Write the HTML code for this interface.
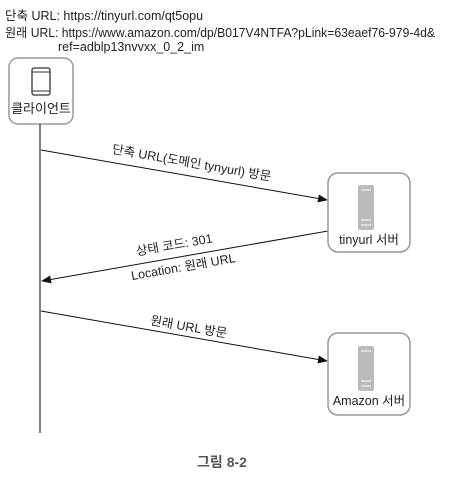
<!DOCTYPE html>
<html><head><meta charset="utf-8"><style>
body{margin:0;background:#fff;width:456px;height:475px;overflow:hidden}
svg text{font-family:"Liberation Sans","Noto Sans CJK KR",sans-serif;fill:#222}
</style></head><body>
<svg width="456" height="475" viewBox="0 0 456 475" xmlns="http://www.w3.org/2000/svg">
<defs><marker id="a" markerWidth="10" markerHeight="8" refX="9" refY="4" orient="auto" markerUnits="userSpaceOnUse"><path d="M0,0 L10,4 L0,8 z" fill="#111"/></marker></defs>
<text x="5" y="20" font-size="12.5">단축 URL: https://tinyurl.com/qt5opu</text>
<text x="5" y="37" font-size="12.5" textLength="430" lengthAdjust="spacingAndGlyphs">원래 URL: https://www.amazon.com/dp/B017V4NTFA?pLink=63eaef76-979-4d&amp;</text>
<text x="58" y="51" font-size="12.5">ref=adblp13nvvxx_0_2_im</text>
<rect x="9" y="58" width="64" height="66" rx="9" fill="#fff" stroke="#999" stroke-width="1.5"/>
<rect x="32" y="68" width="18" height="27" rx="2" fill="none" stroke="#333" stroke-width="1.3"/>
<line x1="32" y1="72" x2="50" y2="72" stroke="#333"/><line x1="32" y1="91" x2="50" y2="91" stroke="#333"/>
<text x="41" y="113" font-size="13" text-anchor="middle">클라이언트</text>
<line x1="40" y1="124" x2="40" y2="433" stroke="#555" stroke-width="1.5"/>
<line x1="41" y1="150" x2="327" y2="200" stroke="#111" stroke-width="1" marker-end="url(#a)"/>
<text transform="translate(191,167) rotate(9.9)" font-size="12.5" text-anchor="middle">단축 URL(도메인 tynyurl) 방문</text>
<line x1="328" y1="231" x2="42" y2="281" stroke="#111" stroke-width="1" marker-end="url(#a)"/>
<text transform="translate(175,249) rotate(-9.9)" font-size="12.5" text-anchor="middle">상태 코드: 301</text>
<text transform="translate(184,271) rotate(-9.9)" font-size="12.5" text-anchor="middle">Location: 원래 URL</text>
<line x1="41" y1="311" x2="327" y2="361" stroke="#111" stroke-width="1" marker-end="url(#a)"/>
<text transform="translate(188,331) rotate(9.9)" font-size="12.5" text-anchor="middle">원래 URL 방문</text>
<rect x="328" y="173" width="82" height="79" rx="10" fill="#fff" stroke="#999" stroke-width="1.5"/>
<rect x="358" y="185" width="16" height="45" rx="2" fill="#bbb"/>
<line x1="361" y1="190" x2="371" y2="190" stroke="#fff"/><line x1="361" y1="220" x2="371" y2="220" stroke="#fff"/><line x1="361" y1="225" x2="371" y2="225" stroke="#fff"/>
<text x="369" y="244" font-size="12.5" text-anchor="middle">tinyurl 서버</text>
<rect x="328" y="333" width="82" height="82" rx="10" fill="#fff" stroke="#999" stroke-width="1.5"/>
<rect x="358" y="346" width="16" height="45" rx="2" fill="#bbb"/>
<line x1="361" y1="351" x2="371" y2="351" stroke="#fff"/><line x1="361" y1="381" x2="371" y2="381" stroke="#fff"/><line x1="361" y1="386" x2="371" y2="386" stroke="#fff"/>
<text x="369" y="405" font-size="12.5" text-anchor="middle">Amazon 서버</text>
<text x="222" y="467" font-size="14" font-weight="bold" text-anchor="middle" style="fill:#555">그림 8-2</text>
</svg>
</body></html>
